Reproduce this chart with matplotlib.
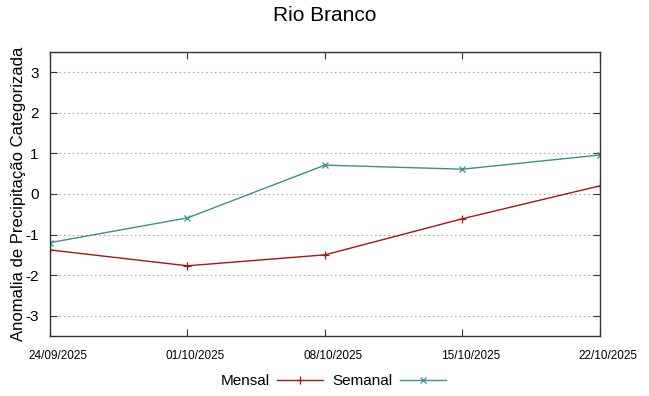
import matplotlib
matplotlib.use("Agg")
import matplotlib.pyplot as plt
import matplotlib.transforms as mtransforms

plt.rcParams['font.family'] = ['Liberation Sans', 'DejaVu Sans']

datas = ['24/09/2025', '01/10/2025', '08/10/2025', '15/10/2025', '22/10/2025']
mensal = [-1.38, -1.77, -1.50, -0.61, 0.20]
semanal = [-1.20, -0.59, 0.71, 0.61, 0.96]
y_ticks = [-3, -2, -1, 0, 1, 2, 3]

fig = plt.figure(figsize=(6.49, 3.96), dpi=100)
ax = fig.add_axes([0.077, 0.1515, 0.8475, 0.7175])

x = list(range(len(datas)))
ax.plot(x, mensal, color='#a01818', linewidth=1.0, marker='+', markersize=6,
        markeredgewidth=0.9, label='Mensal')
ax.plot(x, semanal, color='#3a9090', linewidth=1.0, marker='x', markersize=5,
        markeredgewidth=0.9, label='Semanal')

ax.set_xlim(0, len(datas) - 1)
ax.set_ylim(-3.5, 3.5)
ax.set_xticks(x)
ax.set_xticklabels(datas, fontsize=8.5)
ax.set_yticks(y_ticks)
ax.set_yticklabels([str(v) for v in y_ticks], fontsize=11)
ax.tick_params(direction='in', top=True, right=True, length=5, width=0.8, colors='#333333')
ax.tick_params(axis='x', pad=10)
ax.tick_params(axis='y', pad=8)
for lbl in ax.get_xticklabels() + ax.get_yticklabels():
    lbl.set_color('black')

# labels das datas ficam um pouco deslocadas para a direita
offset = mtransforms.ScaledTranslation(8 / 100, 0, fig.dpi_scale_trans)
for lbl in ax.get_xticklabels():
    lbl.set_transform(lbl.get_transform() + offset)

ax.grid(True, axis='y', linestyle=(0, (1.5, 2.5)), color='#aaaaaa', linewidth=0.8)
for s in ax.spines.values():
    s.set_color('#333333')
    s.set_linewidth(1.0)

ax.set_ylabel('Anomalia de Precipitação Categorizada', fontsize=12)
ax.yaxis.set_label_coords(-0.043, 0.5)
fig.suptitle('Rio Branco', fontsize=15, y=0.985)

ax.legend(loc='center', bbox_to_anchor=(0.515, -0.16), ncol=2, frameon=False,
          markerfirst=False, fontsize=11, handlelength=3, columnspacing=0.6,
          handletextpad=0.5)

fig.savefig('out.png', dpi=100)
